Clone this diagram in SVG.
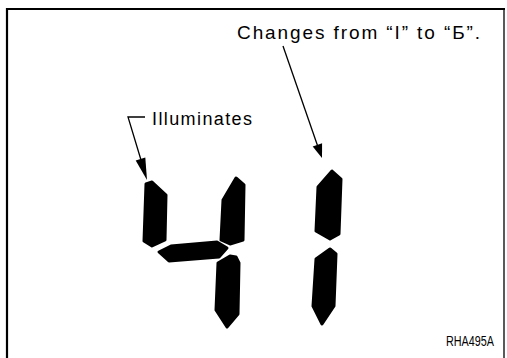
<svg xmlns="http://www.w3.org/2000/svg" width="507" height="358" viewBox="0 0 507 358">
<style>
.seg{fill:#000;stroke:#000;stroke-width:3;stroke-linejoin:round}
.lead{fill:none;stroke:#000;stroke-width:1.3}
.head{fill:#000}
.lbl{font-family:"Liberation Sans",Arial,sans-serif;fill:#000}
</style>
<rect width="507" height="358" fill="#fff"/>
<g id="frame">
<path d="M7,358 V9 H505" fill="none" stroke="#000" stroke-width="2.2"/>
<path d="M504,10 V358" fill="none" stroke="#000" stroke-width="1.3"/>
</g>
<g id="digit4">
<path class="seg" d="M146,184 L152,182 L166,195 L165,240 L152,246 L144,241 Z"/>
<path class="seg" d="M236,178 L244,185 L243,240 L230,244 L221,240 L223,200 Z"/>
<path class="seg" d="M159,252 L171,246 L217,242 L227,248 L219,257 L169,261 Z"/>
<path class="seg" d="M230,256 L236,257 L239,263 L238,314 L227,327 L216,310 L218,263 Z"/>
</g>
<g id="digit1">
<path class="seg" d="M332,171 L341,179 L339,234 L330,239 L316,231 L318,187 Z"/>
<path class="seg" d="M330,249 L336,254 L334,306 L322,324 L313,306 L316,259 Z"/>
</g>
<g id="label-illuminates">
<text class="lbl" x="152" y="125" font-size="18" textLength="100" lengthAdjust="spacing">Illuminates</text>
</g>
<g id="label-changes">
<text class="lbl" x="237" y="39" font-size="19" textLength="243" lengthAdjust="spacing">Changes from “I” to “Б”.</text>
</g>
<g id="label-code">
<text class="lbl" x="446" y="346" font-size="14" textLength="48" lengthAdjust="spacingAndGlyphs">RHA495A</text>
</g>
<g id="connectors">
<path class="lead" d="M145,117 H128 L141,160"/>
<polygon class="head" points="147,180 135.7,160.5 145.3,157.5"/>
<path class="lead" d="M283,46 L318,147"/>
<polygon class="head" points="322,158 312.7,146.4 322.1,143.2"/>
</g>
</svg>
